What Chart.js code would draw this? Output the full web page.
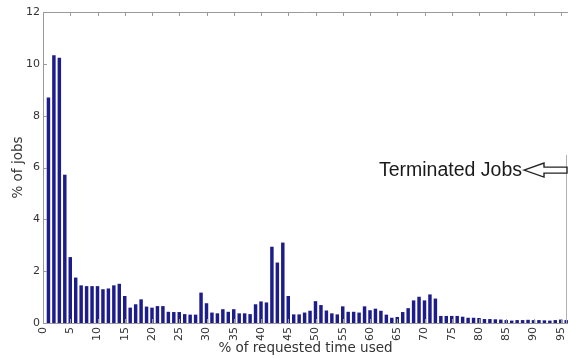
<!DOCTYPE html>
<html>
<head>
<meta charset="utf-8">
<script src="https://cdn.jsdelivr.net/npm/chart.js@4.4.1/dist/chart.umd.min.js"></script>
<style>
  html, body { margin: 0; padding: 0; background: #fff; }
  #wrap { width: 568px; height: 358px; }
</style>
</head>
<body>
<div id="wrap"><canvas id="chart"></canvas></div>
<script>
// % of requested time used (bins 1..96)
const timeUsed = [];
for (let i = 1; i <= 96; i++) timeUsed.push(i);

// % of jobs per bin
const jobsPct = [
    8.69, 10.32, 10.22, 5.71, 2.53, 1.74, 1.44, 1.41, 1.41, 1.41,
    1.29, 1.32, 1.44, 1.50, 1.03, 0.58, 0.71, 0.90, 0.62, 0.58,
    0.64, 0.64, 0.42, 0.41, 0.41, 0.33, 0.31, 0.31, 1.16, 0.75,
    0.39, 0.36, 0.52, 0.42, 0.52, 0.36, 0.36, 0.33, 0.71, 0.82,
    0.78, 2.93, 2.32, 3.09, 1.03, 0.32, 0.32, 0.39, 0.46, 0.83,
    0.68, 0.47, 0.36, 0.32, 0.63, 0.42, 0.42, 0.39, 0.63, 0.48,
    0.54, 0.46, 0.31, 0.19, 0.22, 0.41, 0.56, 0.86, 1.00, 0.86,
    1.09, 0.93, 0.26, 0.26, 0.26, 0.26, 0.23, 0.19, 0.19, 0.18,
    0.14, 0.14, 0.13, 0.12, 0.10, 0.08, 0.10, 0.10, 0.11, 0.10,
    0.10, 0.09, 0.08, 0.10, 0.12, 0.10
];

const xTicks = [0, 5, 10, 15, 20, 25, 30, 35, 40, 45, 50, 55, 60, 65, 70, 75, 80, 85, 90, 95];
const yTicks = [0, 2, 4, 6, 8, 10, 12];
const noteText = 'Terminated Jobs';
const noteValue = 5.9; // y level of the arrow

const axisGray = '#9a9a9a';
const textGray = '#333333';

// frame, inward ticks and the annotation
const framePlugin = {
    id: 'frame',
    afterDraw(chart) {
        const ctx = chart.ctx;
        const a = chart.chartArea;
        const xs = chart.scales.x;
        const ys = chart.scales.y;
        ctx.save();
        ctx.strokeStyle = axisGray;
        ctx.lineWidth = 1;
        ctx.beginPath();
        ctx.moveTo(a.left, a.top + 0.5);
        ctx.lineTo(a.right, a.top + 0.5);
        xTicks.forEach(v => {
            const px = Math.round(xs.getPixelForValue(v)) + 0.5;
            ctx.moveTo(px, a.top);
            ctx.lineTo(px, a.top + 4);
            ctx.moveTo(px, a.bottom);
            ctx.lineTo(px, a.bottom - 4);
        });
        yTicks.forEach(v => {
            const py = Math.round(ys.getPixelForValue(v)) + 0.5;
            ctx.moveTo(a.left, py);
            ctx.lineTo(a.left + 4, py);
        });
        ctx.stroke();

        // right edge line under the arrow
        const yArrow = ys.getPixelForValue(noteValue);
        ctx.strokeStyle = '#b0b0b0';
        ctx.beginPath();
        ctx.moveTo(a.right - 1.5, yArrow - 15);
        ctx.lineTo(a.right - 1.5, a.bottom);
        ctx.stroke();

        // outline arrow pointing left
        const tip = a.right - 44;
        const headEnd = tip + 20;
        ctx.strokeStyle = '#222';
        ctx.lineWidth = 1.4;
        ctx.fillStyle = '#fff';
        ctx.beginPath();
        ctx.moveTo(tip, yArrow);
        ctx.lineTo(headEnd, yArrow - 7);
        ctx.lineTo(headEnd, yArrow - 3);
        ctx.lineTo(a.right - 1, yArrow - 3);
        ctx.lineTo(a.right - 1, yArrow + 3);
        ctx.lineTo(headEnd, yArrow + 3);
        ctx.lineTo(headEnd, yArrow + 7);
        ctx.closePath();
        ctx.fill();
        ctx.stroke();

        ctx.fillStyle = '#1a1a1a';
        ctx.font = '19.5px "Liberation Sans", Arial, sans-serif';
        ctx.textAlign = 'right';
        ctx.textBaseline = 'middle';
        ctx.fillText(noteText, tip - 2, yArrow + 1);
        ctx.restore();
    }
};

const ctx = document.getElementById('chart').getContext('2d');
const chart = new Chart(ctx, {
    type: 'bar',
    data: {
        labels: timeUsed,
        datasets: [{
            data: jobsPct,
            backgroundColor: '#1c1c8a',
            borderWidth: 0,
            barThickness: 2.8
        }]
    },
    options: {
        responsive: true,
        maintainAspectRatio: false,
        animation: false,
        layout: { padding: { top: 12, right: 0, bottom: 0, left: 0 } },
        plugins: {
            legend: { display: false },
            tooltip: { enabled: false }
        },
        scales: {
            x: {
                type: 'linear',
                min: 0,
                max: 96.33,
                offset: false,
                grid: { display: false, drawTicks: false },
                border: { display: true, color: axisGray },
                ticks: {
                    stepSize: 5,
                    autoSkip: false,
                    minRotation: 90,
                    maxRotation: 90,
                    padding: 4,
                    color: textGray,
                    font: { family: '"DejaVu Sans", sans-serif', size: 11 }
                },
                afterBuildTicks(scale) {
                    scale.ticks = xTicks.map(v => ({ value: v }));
                },
                afterFit(scale) {
                    scale.height = 35;
                    scale.paddingLeft = 0;
                    scale.paddingRight = 0;
                },
                title: {
                    display: true,
                    text: '% of requested time used',
                    color: textGray,
                    padding: { top: 0, bottom: 1 },
                    font: { family: '"DejaVu Sans", sans-serif', size: 13.5 }
                }
            },
            y: {
                min: 0,
                max: 12,
                grid: { display: false, drawTicks: false },
                border: { display: true, color: axisGray },
                ticks: {
                    stepSize: 2,
                    padding: 3,
                    color: textGray,
                    font: { family: '"DejaVu Sans", sans-serif', size: 11 }
                },
                afterFit(scale) {
                    scale.width = 43;
                },
                title: {
                    display: true,
                    text: '% of jobs',
                    color: textGray,
                    padding: { top: 10, bottom: 0 },
                    font: { family: '"DejaVu Sans", sans-serif', size: 13.5 }
                }
            }
        }
    },
    plugins: [framePlugin]
});
</script>
</body>
</html>
